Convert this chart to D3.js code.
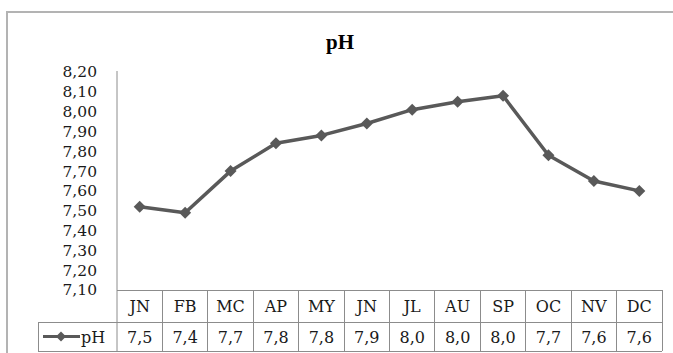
<!DOCTYPE html>
<html><head><meta charset="utf-8">
<script src="https://cdn.jsdelivr.net/npm/d3@7"></script>
<style>html,body{margin:0;padding:0;background:#fff;}svg{display:block;}</style>
</head><body>
<script>
const months = ["JN","FB","MC","AP","MY","JN","JL","AU","SP","OC","NV","DC"];
const phValues = [7.52, 7.49, 7.70, 7.84, 7.88, 7.94, 8.01, 8.05, 8.08, 7.78, 7.65, 7.60];
const tableLabels = ["7,5","7,4","7,7","7,8","7,8","7,9","8,0","8,0","8,0","7,7","7,6","7,6"];
const yTicks = [7.1,7.2,7.3,7.4,7.5,7.6,7.7,7.8,7.9,8.0,8.1,8.2];
const seriesName = "pH";

const W = 673, H = 353;
const svg = d3.select("body").append("svg").attr("width", W).attr("height", H);
const serif = "'DejaVu Serif', serif";
const grid = "#8c8c8c";
const lineCol = "#595959";
const textCol = "#1a1a1a";

// outer chart border
svg.append("rect").attr("x", 7).attr("y", 12).attr("width", 700).attr("height", 400)
  .attr("fill", "none").attr("stroke", "#b3b3b3").attr("stroke-width", 2);

// title
svg.append("text").attr("x", 340).attr("y", 49).attr("text-anchor", "middle")
  .attr("font-family", "'Liberation Serif', serif").attr("font-weight", "bold").attr("font-size", 21)
  .text("pH");

const x = d3.scaleBand().domain(d3.range(months.length)).range([117, 662]);
const y = d3.scaleLinear().domain([7.1, 8.2]).range([290, 72]);

// y axis
const yAxis = d3.axisLeft(y).tickValues(yTicks).tickSize(0).tickPadding(20)
  .tickFormat(d => d3.format(".2f")(d).replace(".", ","));
const ya = svg.append("g").attr("transform", "translate(117,0)").call(yAxis);
ya.select(".domain").remove();
ya.selectAll("text").attr("font-family", serif).attr("font-size", 15.5).attr("fill", textCol);
svg.append("line").attr("x1", 117).attr("x2", 117).attr("y1", 71).attr("y2", 352)
  .attr("stroke", grid).attr("stroke-width", 1);

// diamond marker (rotated square)
const diamondPath = s => `M0,${-s}L${s},0L0,${s}L${-s},0Z`;

// data table
const rowTop = y(7.1), rowMid = 322, rowBot = 351;
const tbl = svg.append("g").attr("stroke", grid).attr("stroke-width", 1).attr("shape-rendering", "crispEdges");
tbl.append("line").attr("x1", 117).attr("x2", x.range()[1]).attr("y1", rowTop).attr("y2", rowTop);
tbl.append("line").attr("x1", 38).attr("x2", x.range()[1]).attr("y1", rowMid).attr("y2", rowMid);
tbl.append("line").attr("x1", 38).attr("x2", x.range()[1]).attr("y1", rowBot).attr("y2", rowBot);
tbl.append("line").attr("x1", 38).attr("x2", 38).attr("y1", rowMid).attr("y2", rowBot);
months.forEach((m, i) => {
  const xr = x(i) + x.bandwidth();
  tbl.append("line").attr("x1", xr).attr("x2", xr).attr("y1", rowTop).attr("y2", rowBot);
});
svg.append("g").selectAll("text").data(months).join("text")
  .attr("x", (d, i) => x(i) + x.bandwidth() / 2).attr("y", (rowTop + rowMid) / 2 + 6)
  .attr("text-anchor", "middle").attr("font-family", serif).attr("font-size", 16).attr("fill", textCol)
  .text(d => d);
svg.append("g").selectAll("text").data(tableLabels).join("text")
  .attr("x", (d, i) => x(i) + x.bandwidth() / 2).attr("y", (rowMid + rowBot) / 2 + 6)
  .attr("text-anchor", "middle").attr("font-family", serif).attr("font-size", 16).attr("fill", textCol)
  .text(d => d);

// legend key in table
const ly = (rowMid + rowBot) / 2;
svg.append("line").attr("x1", 43).attr("x2", 80).attr("y1", ly).attr("y2", ly)
  .attr("stroke", lineCol).attr("stroke-width", 3);
svg.append("path").attr("d", diamondPath(5))
  .attr("transform", `translate(61,${ly})`).attr("fill", lineCol);
svg.append("text").attr("x", 81).attr("y", ly + 6).attr("text-anchor", "start")
  .attr("font-family", serif).attr("font-size", 16).attr("fill", textCol).text(seriesName);

// line
const line = d3.line().x((d, i) => x(i) + x.bandwidth() / 2).y(d => y(d));
svg.append("path").datum(phValues).attr("d", line).attr("fill", "none")
  .attr("stroke", lineCol).attr("stroke-width", 3.5).attr("stroke-linejoin", "round");
svg.append("g").selectAll("path").data(phValues).join("path")
  .attr("d", diamondPath(6))
  .attr("transform", (d, i) => `translate(${x(i) + x.bandwidth() / 2},${y(d)})`)
  .attr("fill", lineCol);
</script>
</body></html>
